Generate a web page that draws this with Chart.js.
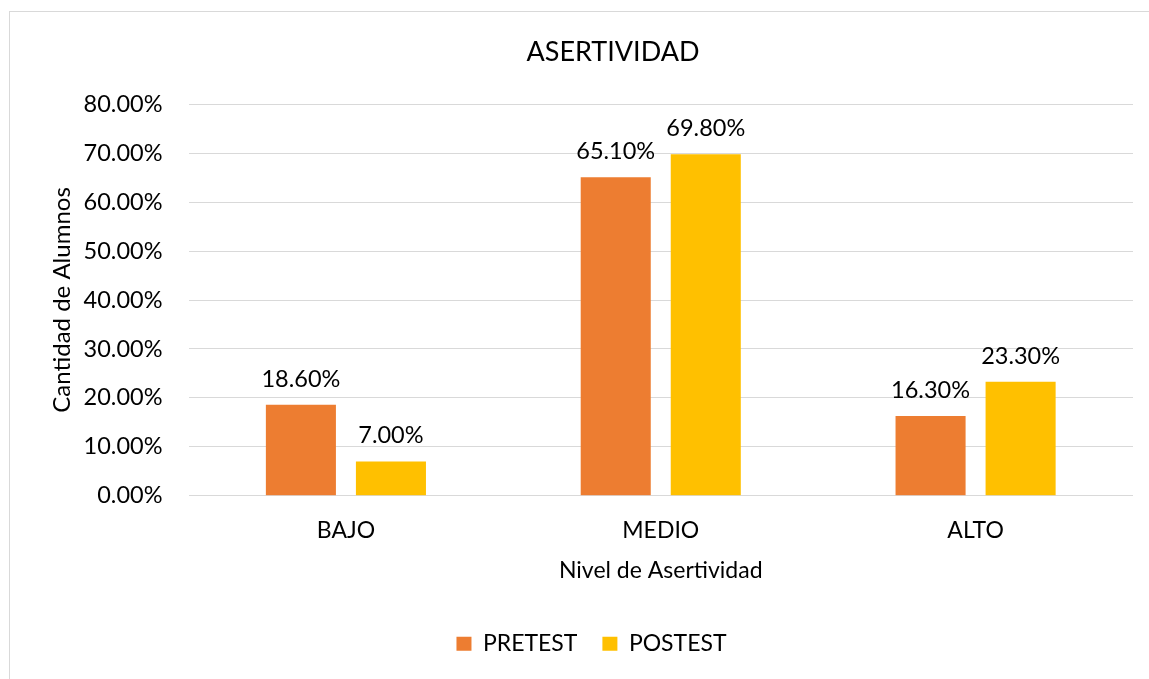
<!DOCTYPE html>
<html lang="es">
<head>
    <meta charset="UTF-8">
    <title>Asertividad</title>
    <script src="https://cdn.jsdelivr.net/npm/chart.js"></script>
    <style>
        html, body { margin: 0; padding: 0; background: #fff; overflow: hidden; }
        .frame {
            position: absolute; left: 9px; top: 11px;
            width: 1200px; height: 700px;
            border: 1px solid #d9d9d9;
        }
        .chart-wrapper { position: absolute; left: 0; top: 0; width: 1149px; height: 679px; }
    </style>
</head>
<body>
    <div class="frame"></div>
    <div class="chart-wrapper">
        <canvas id="asertChart" width="1149" height="679"></canvas>
    </div>

    <script>
        const niveles = ['BAJO', 'MEDIO', 'ALTO'];
        const pretest = [18.6, 65.1, 16.3];
        const postest = [7.0, 69.8, 23.3];
        const yTicks = [0, 10, 20, 30, 40, 50, 60, 70, 80];

        const FONT = "Lato, 'Open Sans', sans-serif";
        const TEXT = '#000000';

        // etiquetas de valor encima de cada barra
        const valueLabels = {
            id: 'valueLabels',
            afterDatasetsDraw(chart) {
                const ctx = chart.ctx;
                ctx.save();
                ctx.font = `23.5px ${FONT}`;
                ctx.fillStyle = TEXT;
                ctx.textAlign = 'center';
                ctx.textBaseline = 'alphabetic';
                chart.data.datasets.forEach((ds, i) => {
                    chart.getDatasetMeta(i).data.forEach((bar, j) => {
                        ctx.fillText(ds.data[j].toFixed(2) + '%', bar.x, bar.y - 18);
                    });
                });
                ctx.restore();
            }
        };

        // el titulo y la leyenda no van centrados en el lienzo en el original
        const nudgeBoxes = {
            id: 'nudgeBoxes',
            afterLayout(chart) {
                if (chart.titleBlock) { chart.titleBlock.left += 41.5; chart.titleBlock.right += 41.5; }
                if (chart.legend) { chart.legend.left += 20; chart.legend.right += 20; }
            }
        };

        new Chart(document.getElementById('asertChart'), {
            type: 'bar',
            data: {
                labels: niveles,
                datasets: [
                    {
                        label: 'PRETEST',
                        data: pretest,
                        backgroundColor: '#ED7D31',
                        categoryPercentage: 0.572,
                        barPercentage: 0.778
                    },
                    {
                        label: 'POSTEST',
                        data: postest,
                        backgroundColor: '#FFC000',
                        categoryPercentage: 0.572,
                        barPercentage: 0.778
                    }
                ]
            },
            options: {
                responsive: false,
                animation: false,
                layout: { padding: { left: 10, right: 16, top: 0, bottom: 13.8 } },
                scales: {
                    x: {
                        grid: { display: false, drawTicks: false },
                        border: { display: false },
                        ticks: { color: TEXT, font: { family: FONT, size: 23 }, padding: 21.5 },
                        title: {
                            display: true,
                            text: 'Nivel de Asertividad',
                            color: TEXT,
                            font: { family: FONT, size: 23 },
                            padding: { top: 0, bottom: 22.4 }
                        },
                        afterFit(scale) { scale.height = 111.5; }
                    },
                    y: {
                        min: 0,
                        max: 80,
                        afterBuildTicks(scale) { scale.ticks = yTicks.map(v => ({ value: v })); },
                        grid: { color: '#d9d9d9', lineWidth: 1, drawTicks: false },
                        border: { display: false },
                        ticks: {
                            color: TEXT,
                            font: { family: FONT, size: 23.5 },
                            padding: 26,
                            callback: v => v.toFixed(2) + '%'
                        },
                        title: {
                            display: true,
                            text: 'Cantidad de Alumnos',
                            color: TEXT,
                            font: { family: FONT, size: 24 },
                            padding: { top: 37.6, bottom: 0 }
                        },
                        afterFit(scale) { scale.width = 178.5; }
                    }
                },
                plugins: {
                    title: {
                        display: true,
                        text: 'ASERTIVIDAD',
                        color: TEXT,
                        font: { family: FONT, size: 27, weight: 'normal' },
                        padding: { top: 36.5, bottom: 35.4 }
                    },
                    legend: {
                        position: 'bottom',
                        labels: {
                            color: TEXT,
                            font: { family: FONT, size: 23 },
                            boxWidth: 15,
                            boxHeight: 14,
                            padding: 25
                        }
                    },
                    tooltip: { enabled: false }
                }
            },
            plugins: [valueLabels, nudgeBoxes]
        });
    </script>
</body>
</html>
